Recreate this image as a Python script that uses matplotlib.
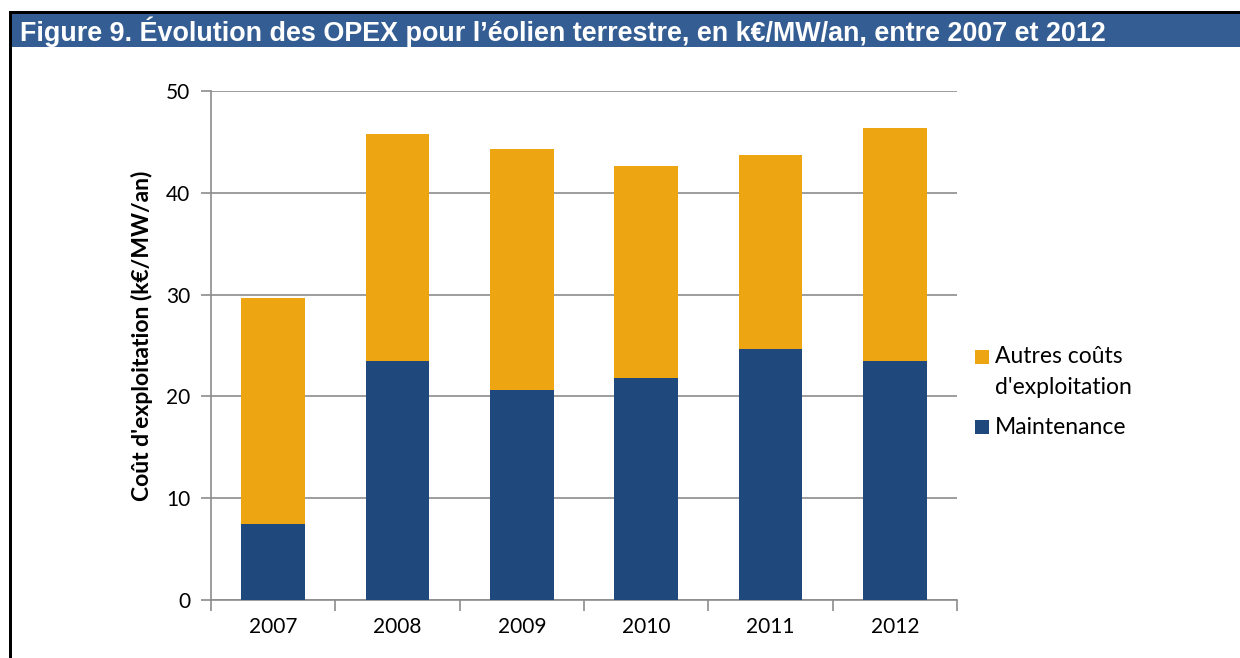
import matplotlib.pyplot as plt
from matplotlib.patches import Rectangle

annees = ['2007', '2008', '2009', '2010', '2011', '2012']
maintenance = [7.5, 23.5, 20.6, 21.8, 24.7, 23.5]
total = [29.7, 45.8, 44.3, 42.6, 43.7, 46.4]
autres = [t - m for t, m in zip(total, maintenance)]

bleu = '#1f497d'
orange = '#eda512'
gris = '#8c8c8c'
police = 'Lato'

W, H = 1240, 658
fig = plt.figure(figsize=(W / 100, H / 100), dpi=100)

# cadre noir + bandeau titre
fig.add_artist(Rectangle((12 / W, 1 - 47 / H), (W - 12) / W, 33 / H,
                         transform=fig.transFigure, color='#345e93', lw=0))
fig.add_artist(Rectangle((9 / W, 1 - 14 / H), (W - 9) / W, 3 / H,
                         transform=fig.transFigure, color='black', lw=0))
fig.add_artist(Rectangle((9 / W, 0), 3 / W, 1 - 11 / H,
                         transform=fig.transFigure, color='black', lw=0))
fig.text(20 / W, 1 - 32 / H,
         "Figure 9. Évolution des OPEX pour l’éolien terrestre, en k€/MW/an, entre 2007 et 2012",
         family='Liberation Sans', weight='bold', fontsize=19.4, color='white',
         va='center', ha='left')

ax = fig.add_axes([211 / W, 1 - 600 / H, (957 - 211) / W, (600 - 91) / H])
x = range(len(annees))
ax.bar(x, maintenance, width=0.51, color=bleu, zorder=3)
ax.bar(x, autres, width=0.51, bottom=maintenance, color=orange, zorder=3)

ax.set_xlim(-0.5, len(annees) - 0.5)
ax.set_ylim(0, 50)
ax.set_yticks(range(0, 51, 10))
ax.set_xticks(x)
ax.set_xticklabels(annees)
ax.set_xticks([i - 0.5 for i in range(len(annees) + 1)], minor=True)
ax.tick_params(axis='x', which='major', length=0, pad=12)
ax.tick_params(axis='x', which='minor', length=8, color=gris, width=1.2)
ax.tick_params(axis='y', length=7, color=gris, width=1.2, pad=8)
for lab in ax.get_xticklabels() + ax.get_yticklabels():
    lab.set_family(police)
    lab.set_fontsize(15)
ax.grid(axis='y', color=gris, lw=1.2, zorder=0)
for s in ['top', 'right']:
    ax.spines[s].set_visible(False)
for s in ['left', 'bottom']:
    ax.spines[s].set_color(gris)
    ax.spines[s].set_linewidth(1.2)
ax.set_ylabel("Coût d'exploitation (k€/MW/an)", family=police,
              weight='bold', fontsize=16.5)
ax.yaxis.set_label_coords(-0.078, 0.52)

# légende
fig.add_artist(Rectangle((975 / W, 1 - 364 / H), 14 / W, 14 / H,
                         transform=fig.transFigure, color=orange, lw=0))
fig.add_artist(Rectangle((975 / W, 1 - 434 / H), 14 / W, 14 / H,
                         transform=fig.transFigure, color=bleu, lw=0))
fig.text(995 / W, 1 - 357 / H, "Autres coûts", family=police,
         fontsize=16.5, va='center')
fig.text(995 / W, 1 - 387 / H, "d'exploitation", family=police,
         fontsize=16.5, va='center')
fig.text(995 / W, 1 - 427 / H, "Maintenance", family=police,
         fontsize=16.5, va='center')

fig.savefig('out.png', dpi=100)
